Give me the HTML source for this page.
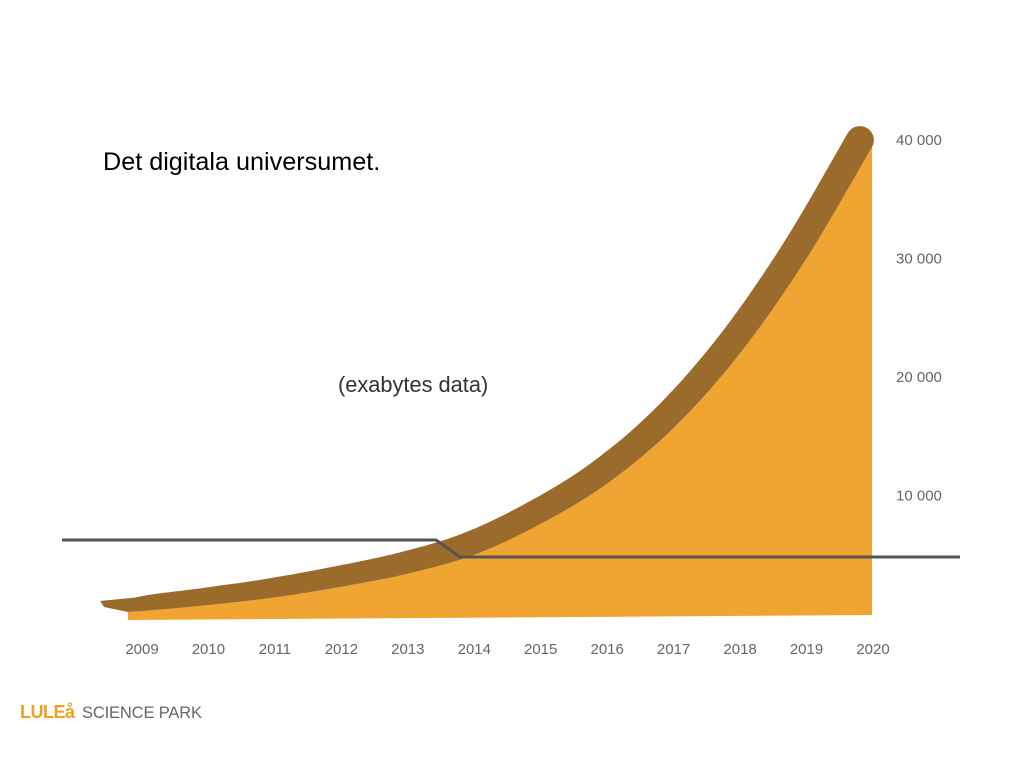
<!DOCTYPE html>
<html><head><meta charset="utf-8"><style>
body{margin:0;background:#fff;width:1024px;height:768px;overflow:hidden;font-family:"Liberation Sans",sans-serif}
svg{position:absolute;left:0;top:0}
</style></head><body>
<svg id="c" width="1024" height="768">
<text x="103" y="170" font-size="25.2" fill="#000">Det digitala universumet.</text>
<text x="338" y="392" font-size="21.8" fill="#333">(exabytes data)</text>
<g id="marks"></g>
<g id="yt" font-size="15" fill="#666"></g>
<g id="xt" font-size="15" fill="#666" text-anchor="middle"></g>
<text x="20" y="718" font-size="18" fill="#f0a020" font-weight="bold" textLength="55">LULEå</text>
<text x="82" y="718" font-size="16.5" fill="#666" textLength="120">SCIENCE PARK</text>
</svg>
<script>
const years=[2009,2010,2011,2012,2013,2014,2015,2016,2017,2018,2019,2020];
const values=[250,750,1400,2300,3400,5000,7600,11000,15700,22000,30000,39400];
const yTicks=[10000,20000,30000,40000];
const yTickLabels=["10 000","20 000","30 000","40 000"];
const xs=y=>142+(y-2009)*66.45;
const ys=v=>614-v*0.01185;
const NS="http://www.w3.org/2000/svg";
const marks=document.getElementById('marks');
function mk(t,a){const e=document.createElementNS(NS,t);for(const k in a)e.setAttribute(k,a[k]);return e;}
let pts=years.map((y,i)=>[xs(y),ys(values[i])]);
pts[pts.length-1][0]=872;
let P=[[128,pts[0][1]+1]];
for(let i=0;i<pts.length-1;i++){const p0=pts[Math.max(0,i-1)],p1=pts[i],p2=pts[i+1],p3=pts[Math.min(pts.length-1,i+2)];
for(let s=0;s<10;s++){const t=s/10,t2=t*t,t3=t2*t;
const f=(a,b,c,d)=>0.5*((2*b)+(-a+c)*t+(2*a-5*b+4*c-d)*t2+(-a+3*b-3*c+d)*t3);
P.push([f(p0[0],p1[0],p2[0],p3[0]),f(p0[1],p1[1],p2[1],p3[1])]);}}
P.push(pts[pts.length-1]);
let d="M"+P.map(p=>p[0].toFixed(1)+","+p[1].toFixed(1)).join(" L")+" L872,615 L128,620 Z";
const area=mk('path',{d:d,fill:'#f0a431'});


marks.appendChild(area);
let bandTop=[];
for(let i=0;i<P.length;i++){const a=P[Math.max(0,i-2)],b=P[Math.min(P.length-1,i+2)];
let dx=b[0]-a[0],dy=b[1]-a[1],L=Math.hypot(dx,dy)||1;let nx=dy/L,ny=-dx/L;
const f=i/(P.length-1);
const w=12+16*Math.sqrt(f);bandTop.push([P[i][0]+nx*w-6*(1-f),P[i][1]+ny*w]);}
bandTop[0]=[100,601];
let bd="M"+bandTop.map(p=>p[0].toFixed(1)+","+p[1].toFixed(1)).join(" L")+" L"+P.slice().reverse().map(p=>p[0].toFixed(1)+","+p[1].toFixed(1)).join(" L")+" L104,607 Z";
const band=mk('path',{d:bd,fill:'#9b6b2b'});


marks.appendChild(band);
const e=P[P.length-1],tt=bandTop[bandTop.length-1];
const cap=mk('circle',{cx:((e[0]+tt[0])/2).toFixed(1),cy:((e[1]+tt[1])/2).toFixed(1),r:(Math.hypot(e[0]-tt[0],e[1]-tt[1])/2).toFixed(1),fill:'#9b6b2b'});


marks.appendChild(cap);
const gl=mk('polyline',{points:"62,540 436,540 460,557 960,557",fill:'none',stroke:'#555',"stroke-width":3});


marks.appendChild(gl);
const yt=document.getElementById('yt');
yTicks.forEach((v,i)=>{const tx=mk('text',{x:896,y:(ys(v)+5).toFixed(1)});tx.textContent=yTickLabels[i];


yt.appendChild(tx);});
const xt=document.getElementById('xt');
years.forEach(y=>{const tx=mk('text',{x:xs(y).toFixed(1),y:654});tx.textContent=y;


xt.appendChild(tx);});
</script>
</body></html>
